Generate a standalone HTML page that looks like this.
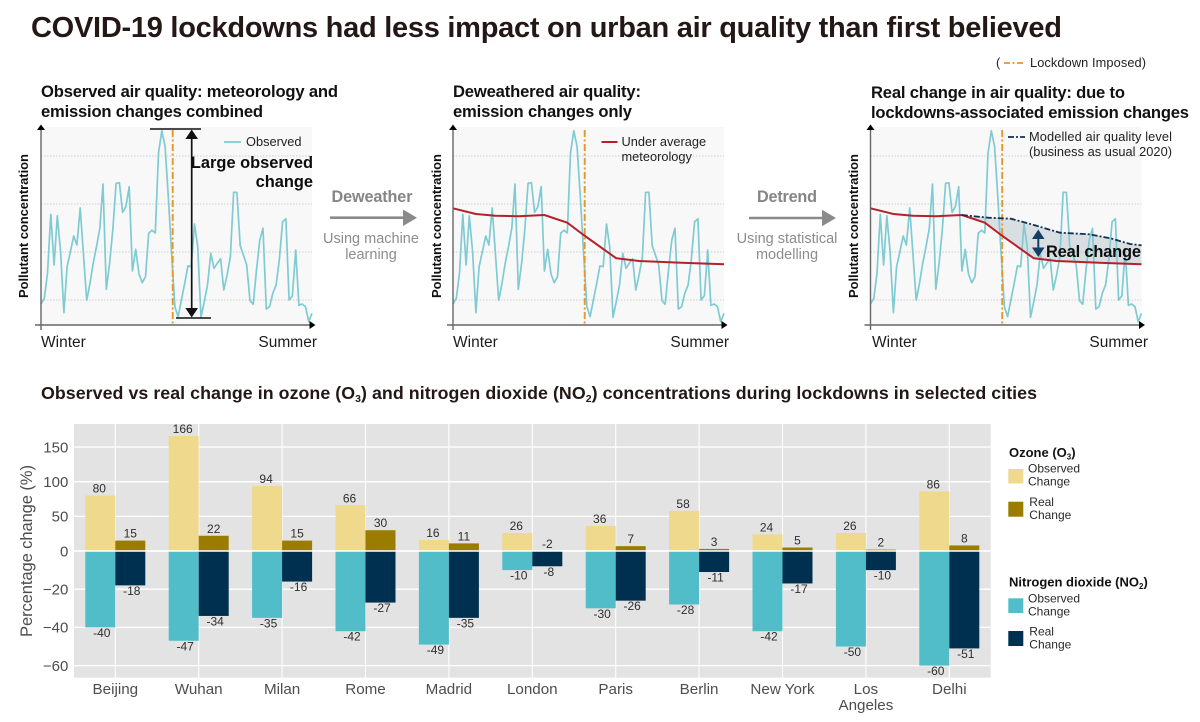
<!DOCTYPE html>
<html lang="en">
<head>
<meta charset="utf-8">
<title>COVID-19 lockdowns air quality</title>
<style>
html,body{margin:0;padding:0;background:#fff;width:1200px;height:722px;overflow:hidden}
svg{display:block;font-family:"Liberation Sans",Arial,sans-serif}
.ttl{font-weight:700;font-size:16.6px;fill:#111}
.season{font-size:15.5px;fill:#1c1c1c}
.yt{font-weight:700;font-size:13px;fill:#111}
.leg{font-size:12.8px;fill:#222}
.big{font-weight:700;font-size:16.4px;fill:#0c0c0c}
.flowb{font-weight:700;font-size:16.2px;fill:#858585}
.flow{font-size:14.5px;fill:#8c8c8c}
.ltitle{font-weight:700;font-size:13px;fill:#111}
.ltext{font-size:12px;fill:#2a2a2a}
</style>
</head>
<body>
<svg id="root" xmlns="http://www.w3.org/2000/svg" width="1200" height="722" viewBox="0 0 1200 722">
  <text x="31" y="37" font-size="29" font-weight="700" fill="#231815" textLength="1031" lengthAdjust="spacing">COVID-19 lockdowns had less impact on urban air quality than first believed</text>

  <g>
    <text x="996" y="67" class="leg">(</text>
    <line x1="1004" y1="63" x2="1025" y2="63" stroke="#e8952a" stroke-width="1.8" stroke-dasharray="6 2.5 2 2.5"/>
    <text x="1030" y="67" class="leg" textLength="116" lengthAdjust="spacing">Lockdown Imposed)</text>
  </g>

  <g id="panel1"></g>
  <g id="panel2"></g>
  <g id="panel3"></g>

  <g>
    <text class="ttl" x="41" y="97" textLength="297" lengthAdjust="spacing">Observed air quality: meteorology and</text>
    <text class="ttl" x="41" y="117" textLength="222" lengthAdjust="spacing">emission changes combined</text>
    <text class="yt" transform="translate(28,226) rotate(-90)" text-anchor="middle" textLength="144" lengthAdjust="spacing">Pollutant concentration</text>
    <text class="season" x="41" y="347">Winter</text>
    <text class="season" x="317" y="347" text-anchor="end">Summer</text>
    <line x1="224" y1="142" x2="241" y2="142" stroke="#7fcbd3" stroke-width="1.8"/>
    <text class="leg" x="246" y="146">Observed</text>
    <text class="big" x="313" y="168" text-anchor="end">Large observed</text>
    <text class="big" x="313" y="187" text-anchor="end">change</text>
    <line x1="150" y1="129" x2="201" y2="129" stroke="#111" stroke-width="1.6"/>
    <line x1="176" y1="318" x2="211" y2="318" stroke="#111" stroke-width="1.6"/>
    <line x1="191.7" y1="135" x2="191.7" y2="312" stroke="#111" stroke-width="1.7"/>
    <polygon points="191.7,129.5 198,139 185.4,139" fill="#111"/>
    <polygon points="191.7,317.5 198,308 185.4,308" fill="#111"/>
  </g>

  <g>
    <text class="ttl" x="453" y="97" textLength="188" lengthAdjust="spacing">Deweathered air quality:</text>
    <text class="ttl" x="453" y="117" textLength="179" lengthAdjust="spacing">emission changes only</text>
    <text class="yt" transform="translate(441,226) rotate(-90)" text-anchor="middle" textLength="144" lengthAdjust="spacing">Pollutant concentration</text>
    <text class="season" x="453" y="347">Winter</text>
    <text class="season" x="729" y="347" text-anchor="end">Summer</text>
    <line x1="601.5" y1="142" x2="617.5" y2="142" stroke="#b5202a" stroke-width="2"/>
    <text class="leg" x="621.5" y="146">Under average</text>
    <text class="leg" x="621.5" y="161">meteorology</text>
  </g>

  <g>
    <text class="ttl" x="871" y="98" textLength="254" lengthAdjust="spacing">Real change in air quality: due to</text>
    <text class="ttl" x="871" y="118" textLength="318" lengthAdjust="spacing">lockdowns-associated emission changes</text>
    <text class="yt" transform="translate(858,226) rotate(-90)" text-anchor="middle" textLength="144" lengthAdjust="spacing">Pollutant concentration</text>
    <text class="season" x="872" y="347">Winter</text>
    <text class="season" x="1148" y="347" text-anchor="end">Summer</text>
    <line x1="1008" y1="137" x2="1025" y2="137" stroke="#14304f" stroke-width="1.8" stroke-dasharray="6 2 2 2"/>
    <text class="leg" x="1029" y="141" textLength="143" lengthAdjust="spacing">Modelled air quality level</text>
    <text class="leg" x="1029" y="156" textLength="143" lengthAdjust="spacing">(business as usual 2020)</text>
    <line x1="1038.3" y1="234" x2="1038.3" y2="254" stroke="#123f63" stroke-width="2"/>
    <polygon points="1038.3,229.5 1044.5,239 1032,239" fill="#123f63"/>
    <polygon points="1038.3,257 1044.5,247.5 1032,247.5" fill="#123f63"/>
    <text class="big" x="1046" y="257" textLength="95" lengthAdjust="spacing">Real change</text>
  </g>

  <g>
    <text class="flowb" x="372" y="202" text-anchor="middle" textLength="81" lengthAdjust="spacing">Deweather</text>
    <line x1="330" y1="217.7" x2="404" y2="217.7" stroke="#8a8a8a" stroke-width="2.6"/>
    <polygon points="417,217.7 403,209.5 403,226" fill="#8a8a8a"/>
    <text class="flow" x="371" y="243" text-anchor="middle">Using machine</text>
    <text class="flow" x="371" y="259" text-anchor="middle">learning</text>
  </g>
  <g>
    <text class="flowb" x="787" y="202" text-anchor="middle" textLength="60" lengthAdjust="spacing">Detrend</text>
    <line x1="749" y1="218" x2="823" y2="218" stroke="#8a8a8a" stroke-width="2.6"/>
    <polygon points="836,218 822,209.8 822,226.3" fill="#8a8a8a"/>
    <text class="flow" x="787" y="243" text-anchor="middle">Using statistical</text>
    <text class="flow" x="787" y="259" text-anchor="middle">modelling</text>
  </g>

  <text x="41" y="399" font-size="17.8" font-weight="700" fill="#231815" textLength="996" lengthAdjust="spacing">Observed vs real change in ozone (O<tspan font-size="10.5" dy="3">3</tspan><tspan dy="-3">) and nitrogen dioxide (NO</tspan><tspan font-size="10.5" dy="3">2</tspan><tspan dy="-3">) concentrations during lockdowns in selected cities</tspan></text>

  <g id="barChart"></g>
  <text transform="translate(32,551) rotate(-90)" text-anchor="middle" font-size="16.6" fill="#4d4d4d" textLength="172" lengthAdjust="spacing">Percentage change (%)</text>

  <g>
    <text class="ltitle" x="1009" y="457">Ozone (O<tspan font-size="8" dy="2.5">3</tspan><tspan dy="-2.5">)</tspan></text>
    <rect x="1008.3" y="469" width="15" height="14.5" fill="#efd98d"/>
    <text class="ltext" x="1028" y="472.7">Observed</text>
    <text class="ltext" x="1028" y="485.7">Change</text>
    <rect x="1008.3" y="501.7" width="15" height="15" fill="#9a7c00"/>
    <text class="ltext" x="1029.3" y="506">Real</text>
    <text class="ltext" x="1029.3" y="519">Change</text>
  </g>
  <g>
    <text class="ltitle" x="1009" y="586.7">Nitrogen dioxide (NO<tspan font-size="8" dy="2.5">2</tspan><tspan dy="-2.5">)</tspan></text>
    <rect x="1008.3" y="598.3" width="15" height="14.7" fill="#50bdc9"/>
    <text class="ltext" x="1028" y="602.7">Observed</text>
    <text class="ltext" x="1028" y="615.5">Change</text>
    <rect x="1008.3" y="631" width="15" height="15" fill="#00304f"/>
    <text class="ltext" x="1029.3" y="635.3">Real</text>
    <text class="ltext" x="1029.3" y="648.3">Change</text>
  </g>
</svg>

<script>
// Line panels: concentration values (arbitrary units)
const observedSeries = [63,80,155,332,180,328,220,37,175,220,267,240,351,215,74,125,185,235,290,423,107,185,285,425,427,338,355,415,162,227,153,127,145,275,284,276,515,583,535,385,215,55,25,75,125,177,175,303,235,23,70,120,215,170,185,199,105,150,205,398,398,238,210,180,73,62,165,255,290,48,55,95,120,195,310,319,75,88,225,59,63,55,10,35];
const averageMetSteps = [0,7,13,20,28,35,40,50,57,70,83];
const averageMetValues = [350,333,328,326,330,307,270,200,192,187,182];
const modelledSteps = [28,36,43,49,58,67,73.5,79.5,83];
const modelledValues = [330,322,319,303,277,272,260,243,239];
const panelGridValues = [25,73,121,169].map(function(d){return d*3;});

// Bar chart: percentage change by city
const cities = ["Beijing","Wuhan","Milan","Rome","Madrid","London","Paris","Berlin","New York","Los Angeles","Delhi"];
const o3Observed = [80,166,94,66,16,26,36,58,24,26,86];
const o3Real = [15,22,15,30,11,-2,7,3,5,2,8];
const no2Observed = [-40,-47,-35,-42,-49,-10,-30,-28,-42,-50,-60];
const no2Real = [-18,-34,-16,-27,-35,-8,-26,-11,-17,-10,-51];
const yTickValues = [150,100,50,0,-20,-40,-60];

const NS = "http://www.w3.org/2000/svg";
function mk(tag, attrs, parent){
  const el = document.createElementNS(NS, tag);
  for (const k in attrs) el.setAttribute(k, attrs[k]);
  parent.appendChild(el);
  return el;
}

// ---- line panel axes
const panelTop = 127, panelBase = 325, panelW = 271;
function panelX(x0, step){ return x0 + step * (panelW / 83); }
function panelY(v){ return panelBase - v / 3; }
function pts(x0, steps, values){
  return values.map(function(v,i){ return panelX(x0, steps[i]).toFixed(1) + "," + panelY(v).toFixed(1); });
}
const obsSteps = observedSeries.map(function(_,i){return i;});

function drawPanel(id, x0, opts){
  const g = document.getElementById(id);
  const bg = mk("rect",{x:x0,y:panelTop,width:panelW,height:panelBase-panelTop,fill:"#f8f8f8"},g);
  
  
  panelGridValues.forEach(function(v){
    const gl = mk("line",{x1:x0,x2:x0+panelW,y1:panelY(v),y2:panelY(v),stroke:"#cfcfcf","stroke-width":0.9,"stroke-dasharray":"1.5 1.5"},g);
    
    
  });
  if (opts.model){
    const i0 = averageMetSteps.indexOf(28);
    const up = pts(x0, modelledSteps, modelledValues);
    const low = pts(x0, averageMetSteps.slice(i0), averageMetValues.slice(i0)).reverse();
    const shade = mk("polygon",{points:up.concat(low).join(" "),fill:"#3f5f7f","fill-opacity":0.17},g);
    
    
  }
  const line = mk("polyline",{points:pts(x0,obsSteps,observedSeries).join(" "),fill:"none",stroke:"#7fcbd3","stroke-width":1.7,"stroke-linejoin":"round"},g);
  
  
  const lx = x0 + 131.7;
  const lock = mk("line",{x1:lx,x2:lx,y1:130,y2:326,stroke:"#e8952a","stroke-width":1.9,"stroke-dasharray":"7 2.5 2 2.5"},g);
  
  
  if (opts.red){
    const red = mk("polyline",{points:pts(x0,averageMetSteps,averageMetValues).join(" "),fill:"none",stroke:"#b5202a","stroke-width":2,"stroke-linejoin":"round"},g);
    
    
  }
  if (opts.model){
    const mod = mk("polyline",{points:pts(x0,modelledSteps,modelledValues).join(" "),fill:"none",stroke:"#14304f","stroke-width":1.8,"stroke-dasharray":"6 2 2 2"},g);
    
    
  }
  const xa = mk("line",{x1:x0-6,x2:x0+panelW-1,y1:panelBase,y2:panelBase,stroke:"#666","stroke-width":1.4},g);
  
  
  const ya = mk("line",{x1:x0,x2:x0,y1:128,y2:330,stroke:"#666","stroke-width":1.4},g);
  
  
  const ah = mk("polygon",{points:(x0-4)+",130 "+(x0+4)+",130 "+x0+",124.5",fill:"#000"},g);
  
  
  const tip = x0 + panelW + 3.5;
  const ax = mk("polygon",{points:(tip-6)+",321 "+(tip-6)+",329 "+tip+",325",fill:"#000"},g);
  
  
}
drawPanel("panel1", 41, {});
drawPanel("panel2", 453, {red:true});
drawPanel("panel3", 870.5, {red:true, model:true});

// ---- bar chart axes
const plotL = 74, plotR = 990.7, plotT = 424, plotB = 677.7;
const zeroY = 551, posPx = 0.693, negPx = 1.91;
const firstCenter = 115.3, catStep = 83.4, barW = 30;
function yScale(v){ return v >= 0 ? zeroY - v * posPx : zeroY - v * negPx; }
function xCenter(i){ return firstCenter + i * catStep; }

const chart = document.getElementById("barChart");
const plotBg = mk("rect",{x:plotL,y:plotT,width:plotR-plotL,height:plotB-plotT,fill:"#e3e3e3"},chart);



yTickValues.forEach(function(t){
  const gl = mk("line",{x1:plotL,x2:plotR,y1:yScale(t),y2:yScale(t),stroke:"#fff","stroke-width":1.3},chart);
  
  
  const lb = mk("text",{x:68.3,y:yScale(t)+5.3,"text-anchor":"end","font-size":15,fill:"#4d4d4d"},chart);
  
  
  lb.textContent = t < 0 ? "\u2212" + Math.abs(t) : String(t);
});

cities.forEach(function(name,i){
  const cx = xCenter(i);
  const vg = mk("line",{x1:cx,x2:cx,y1:plotT,y2:plotB,stroke:"#fff","stroke-width":1.1},chart);
  
  
  name.split(" ").forEach(function(word,k,words){
    const single = name === "New York";
    if (single && k > 0) return;
    const lab = mk("text",{x:cx,y:694+k*16,"text-anchor":"middle","font-size":15.2,fill:"#4d4d4d"},chart);
    
    
    lab.textContent = single ? name : word;
  });
});

function drawBar(value, i, side, fill, seriesName){
  const x = side < 0 ? xCenter(i) - barW : xCenter(i);
  const y = yScale(value);
  const top = Math.min(y, zeroY), h = Math.abs(y - zeroY);
  const hidden = seriesName === "o3-real" && value < 0;
  if (!hidden){
    const b = mk("rect",{x:x,y:top,width:barW,height:h,fill:fill},chart);
    
    
  }
}
function drawLabel(value, i, side, isPositiveSeries){
  const center = xCenter(i) + side * barW / 2;
  const dx = isPositiveSeries ? (side < 0 ? -1 : 0) : 1.5;
  const ty = isPositiveSeries ? Math.min(yScale(value), zeroY) - 3 : yScale(value) + 9.5;
  const t = mk("text",{x:center+dx,y:ty,"text-anchor":"middle","font-size":12,fill:"#2e2e2e"},chart);
  
  
  t.textContent = String(value);
}

cities.forEach(function(_,i){
  drawBar(no2Observed[i], i, -1, "#50bdc9", "no2-observed");
  drawBar(no2Real[i], i, 1, "#00304f", "no2-real");
  drawBar(o3Observed[i], i, -1, "#efd98d", "o3-observed");
  drawBar(o3Real[i], i, 1, "#9a7c00", "o3-real");
});
const zeroLine = mk("line",{x1:plotL,x2:plotR,y1:zeroY,y2:zeroY,stroke:"#fff","stroke-width":1.6},chart);


cities.forEach(function(_,i){
  drawLabel(o3Observed[i], i, -1, true);
  drawLabel(o3Real[i], i, 1, true);
  drawLabel(no2Observed[i], i, -1, false);
  drawLabel(no2Real[i], i, 1, false);
});
</script>
</body>
</html>
